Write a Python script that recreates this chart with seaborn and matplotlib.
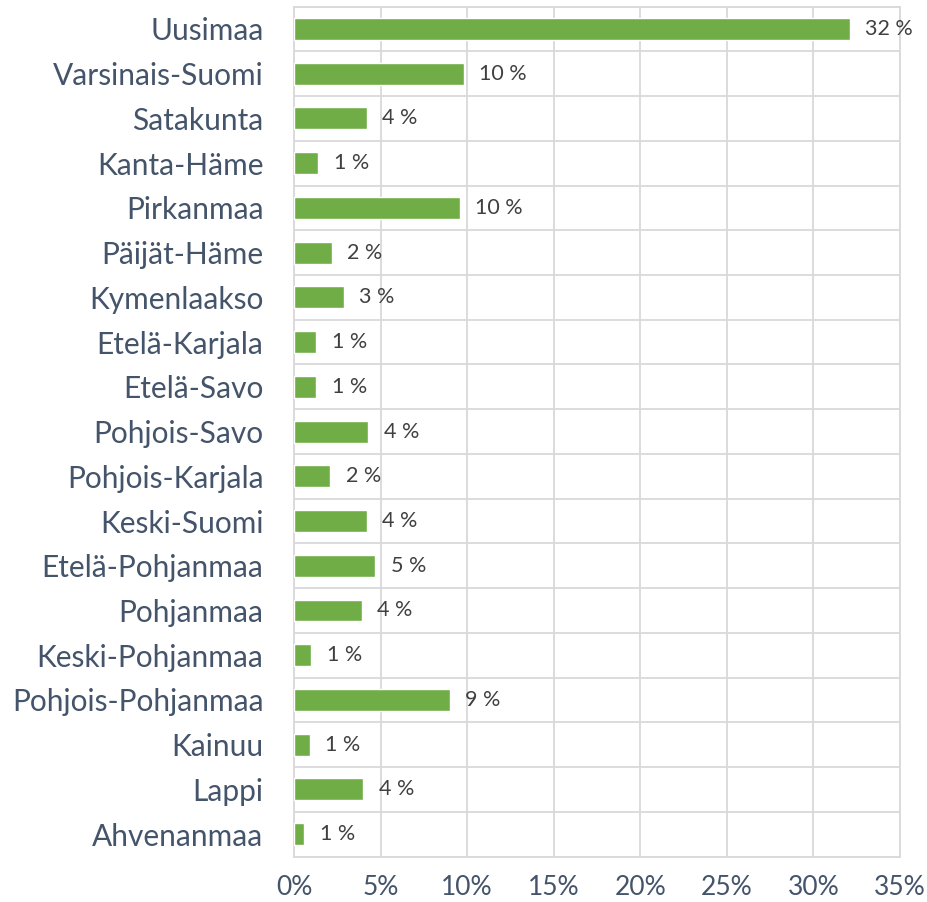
import numpy as np
import pandas as pd
import seaborn as sns
import matplotlib.pyplot as plt
from matplotlib.ticker import FixedLocator, FuncFormatter

# -------- data --------
regions = ['Uusimaa', 'Varsinais-Suomi', 'Satakunta', 'Kanta-Häme', 'Pirkanmaa',
           'Päijät-Häme', 'Kymenlaakso', 'Etelä-Karjala', 'Etelä-Savo', 'Pohjois-Savo',
           'Pohjois-Karjala', 'Keski-Suomi', 'Etelä-Pohjanmaa', 'Pohjanmaa',
           'Keski-Pohjanmaa', 'Pohjois-Pohjanmaa', 'Kainuu', 'Lappi', 'Ahvenanmaa']
shares = [32.1, 9.8, 4.2, 1.4, 9.6, 2.2, 2.9, 1.3, 1.3, 4.3,
          2.1, 4.2, 4.7, 3.9, 1.0, 9.0, 0.9, 4.0, 0.6]
x_ticks = [0, 5, 10, 15, 20, 25, 30, 35]

df = pd.DataFrame({'region': regions, 'share': shares})

# -------- style --------
sns.set_style('white')
plt.rcParams['font.family'] = ['Lato', 'DejaVu Sans']

label_col = '#44546A'
grid_col = '#D9D9D9'
bar_col = '#70AD47'

fig = plt.figure(figsize=(9.28, 9.02), dpi=100)
ax = fig.add_axes([0.3168, 0.0504, 0.653, 0.9423])

sns.barplot(data=df, x='share', y='region', orient='h', color=bar_col,
            width=0.49, saturation=1, ax=ax, zorder=3)

ax.set_xlim(0, 35)
ax.set_ylim(len(regions) - 0.5, -0.5)
ax.xaxis.set_major_locator(FixedLocator(x_ticks))
ax.xaxis.set_major_formatter(FuncFormatter(lambda v, p: f'{int(v)}%'))
ax.yaxis.set_minor_locator(FixedLocator(np.arange(-0.5, len(regions), 1)))

ax.grid(axis='x', which='major', color=grid_col, linewidth=1.3, zorder=0)
ax.grid(axis='y', which='minor', color=grid_col, linewidth=1.3, zorder=0)
ax.set_axisbelow(True)
for s in ax.spines.values():
    s.set_color(grid_col)
    s.set_linewidth(1.3)

ax.tick_params(axis='both', which='both', length=0)
ax.tick_params(axis='y', labelsize=21.5, labelcolor=label_col, pad=22)
ax.tick_params(axis='x', labelsize=19, labelcolor=label_col, pad=13)
ax.set_xlabel('')
ax.set_ylabel('')

# data labels
for i, v in enumerate(shares):
    ax.annotate(f'{round(v)} %', xy=(v, i), xytext=(11, 0), textcoords='offset points',
                va='center', ha='left', fontsize=15.5, color='#404040')

plt.savefig('out.png', dpi=100)
